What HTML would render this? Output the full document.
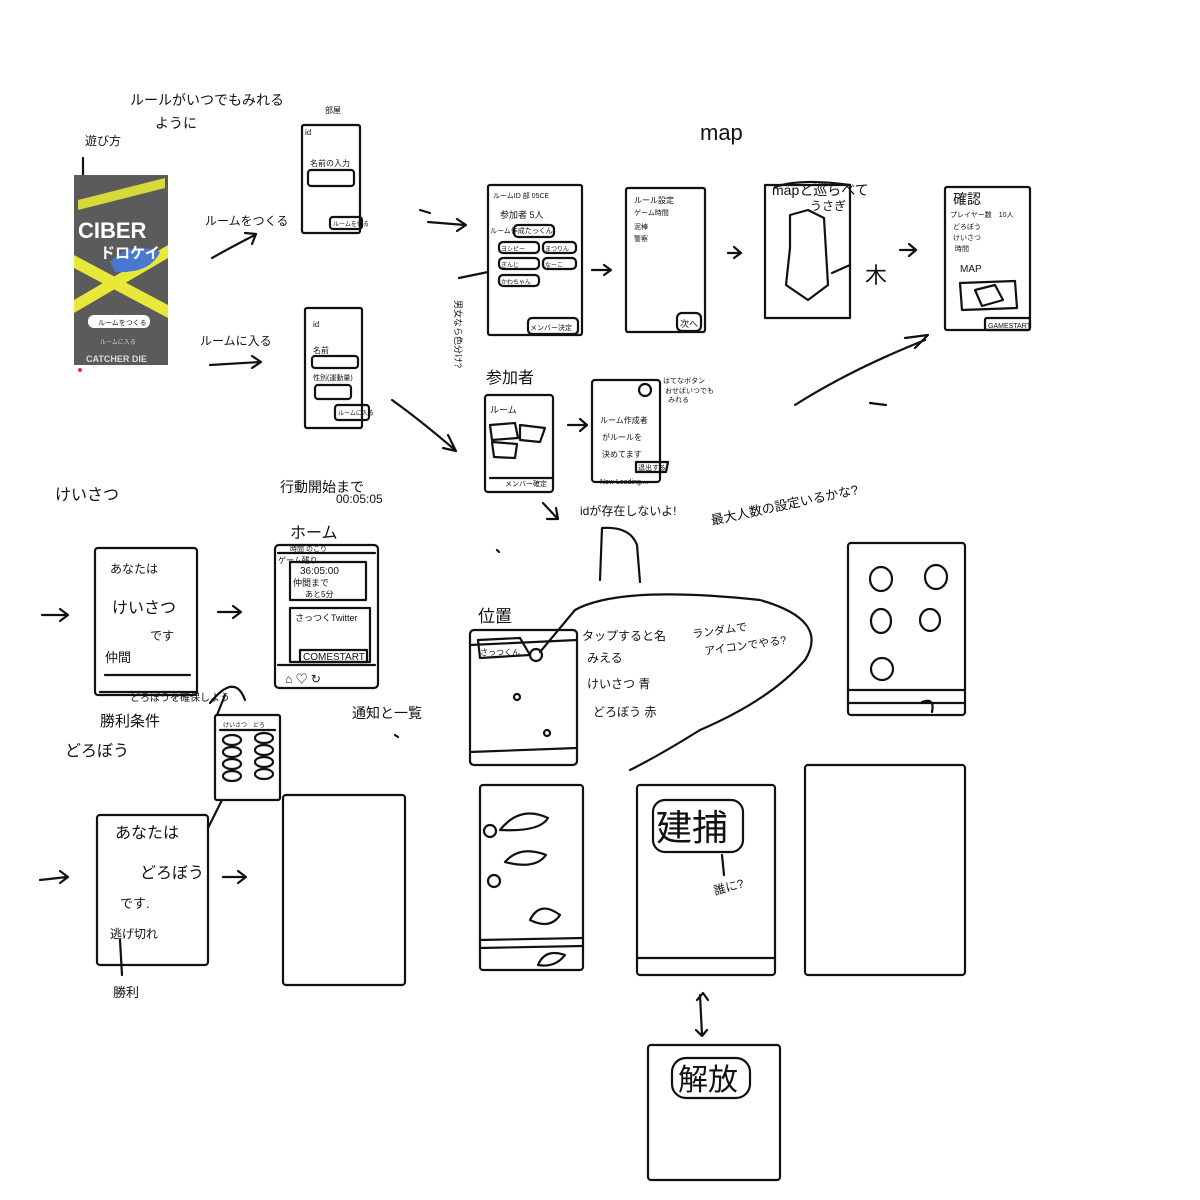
<!DOCTYPE html>
<html><head><meta charset="utf-8"><style>
html,body{margin:0;padding:0;background:#fff;}
svg{display:block}
text{font-family:"Liberation Sans","Noto Sans CJK JP",sans-serif;fill:#111}
</style></head><body>
<svg width="1200" height="1200" viewBox="0 0 1200 1200" xmlns="http://www.w3.org/2000/svg">
<g fill="none" stroke="#111" stroke-width="2.2" stroke-linecap="round" stroke-linejoin="round">
<rect x="302" y="125" width="58" height="108" rx="2"/>
<rect x="305" y="308" width="57" height="120" rx="2"/>
<rect x="488" y="185" width="94" height="150" rx="2"/>
<rect x="626" y="188" width="79" height="144" rx="2"/>
<rect x="765" y="185" width="85" height="133"/>
<rect x="945" y="187" width="85" height="143" rx="2"/>
<rect x="485" y="395" width="68" height="97" rx="3"/>
<rect x="592" y="380" width="68" height="102" rx="3"/>
<rect x="95" y="548" width="102" height="147" rx="3"/>
<rect x="275" y="545" width="103" height="143" rx="4"/>
<rect x="470" y="630" width="107" height="135" rx="4"/>
<rect x="848" y="543" width="117" height="172" rx="3"/>
<rect x="97" y="815" width="111" height="150" rx="3"/>
<rect x="283" y="795" width="122" height="190" rx="3"/>
<rect x="480" y="785" width="103" height="185" rx="3"/>
<rect x="637" y="785" width="138" height="190" rx="3"/>
<rect x="805" y="765" width="160" height="210" rx="3"/>
<rect x="648" y="1045" width="132" height="135" rx="3"/>
<rect x="215" y="715" width="65" height="85" rx="2"/>
<rect x="308" y="170" width="46" height="16" rx="3"/>
<rect x="330" y="217" width="32" height="12" rx="3"/>
<rect x="312" y="356" width="46" height="12" rx="3"/>
<rect x="335" y="405" width="34" height="15" rx="3"/>
<rect x="315" y="385" width="36" height="14" rx="3"/>
<rect x="528" y="318" width="50" height="16" rx="4"/>
<rect x="499" y="242" width="40" height="11" rx="4"/>
<rect x="543" y="242" width="33" height="11" rx="4"/>
<rect x="499" y="258" width="40" height="11" rx="4"/>
<rect x="543" y="258" width="33" height="11" rx="4"/>
<rect x="499" y="275" width="40" height="11" rx="4"/>
<rect x="514" y="225" width="40" height="12" rx="4"/>
<rect x="677" y="313" width="24" height="18" rx="5"/>
<rect x="985" y="318" width="45" height="12" rx="2"/>
<path d="M960 283 L1015 281 L1017 308 L962 310 Z"/>
<path d="M975 290 L995 285 L1003 300 L982 306 Z"/>
<path d="M790 248 L790 215 L808 210 L824 218 L828 285 L808 300 L786 285 Z"/>
<path d="M832 273 L850 265"/>
<path d="M490 425 L515 423 L518 438 L492 440 Z M520 425 L545 428 L540 442 L520 440 Z M492 442 L517 444 L515 458 L494 457 Z"/>
<path d="M490 478 L553 478"/>
<path d="M636 462 L668 462 L666 472 L636 472 Z"/>
<circle cx="645" cy="390" r="6"/>
<path d="M278 553 L375 553 M290 562 L366 562 L366 600 L290 600 Z M290 608 L370 608 L370 662 L290 662 Z M278 665 L375 665"/>
<path d="M300 650 L367 650 L367 662 L300 662 Z"/>
<path d="M470 645 L577 640 M470 752 L577 748"/>
<path d="M478 640 L520 638 L530 655 L480 658 Z"/>
<circle cx="536" cy="655" r="6"/><circle cx="517" cy="697" r="3"/><circle cx="547" cy="733" r="3"/>
<path d="M540 652 L575 610 Q620 585 760 600 Q830 620 805 660 Q770 700 700 730 Q660 755 630 770"/>
<ellipse cx="881" cy="579" rx="11" ry="12"/><ellipse cx="936" cy="577" rx="11" ry="12"/>
<ellipse cx="881" cy="621" rx="10" ry="12"/><ellipse cx="930" cy="620" rx="10" ry="11"/>
<ellipse cx="882" cy="669" rx="11" ry="11"/>
<path d="M848 690 L965 690 M848 703 L965 703 M922 702 Q935 697 932 712"/>
<path d="M105 675 L190 675 M100 692 L195 692"/>
<path d="M220 730 L275 730"/>
<ellipse cx="232" cy="740" rx="9" ry="5"/><ellipse cx="264" cy="738" rx="9" ry="5"/>
<ellipse cx="232" cy="752" rx="9" ry="5"/><ellipse cx="264" cy="750" rx="9" ry="5"/>
<ellipse cx="232" cy="764" rx="9" ry="5"/><ellipse cx="264" cy="762" rx="9" ry="5"/>
<ellipse cx="232" cy="776" rx="9" ry="5"/><ellipse cx="264" cy="774" rx="9" ry="5"/>
<path d="M500 830 Q520 805 548 818 Q540 832 500 830 Z M505 862 Q520 845 546 855 Q535 870 505 862 Z M530 920 Q540 900 560 915 Q550 930 530 920 Z M538 965 Q545 948 565 955 Q555 968 538 965 Z"/>
<circle cx="490" cy="831" r="6"/><circle cx="494" cy="881" r="6"/>
<path d="M480 940 L583 938 M480 948 L583 946"/>
<rect x="653" y="800" width="90" height="52" rx="12"/>
<path d="M637 958 L775 958 M722 855 L724 875"/>
<rect x="672" y="1058" width="78" height="40" rx="14"/>
<path d="M700 995 L702 1035 M697 1000 L703 993 L708 1000 M696 1030 L702 1036 L707 1030"/>
<path d="M212 258 Q235 245 255 235 M245 233 L256 234 L252 244"/>
<path d="M210 365 L260 362 M252 356 L261 362 L252 368"/>
<path d="M420 210 L430 213 M428 222 L465 225 M457 219 L466 225 L457 231"/>
<path d="M392 400 Q420 420 455 450 M448 435 L456 451 L443 448"/>
<path d="M592 270 L610 270 M604 265 L611 270 L604 275"/>
<path d="M728 253 L740 253 M734 247 L741 253 L734 258"/>
<path d="M900 250 L915 250 M909 244 L916 250 L909 256"/>
<path d="M795 405 Q850 370 925 340 M905 338 L928 335 L915 348"/>
<path d="M870 403 L886 405"/>
<path d="M568 425 L585 425 M580 419 L587 425 L580 431"/>
<path d="M543 503 L557 518 M547 519 L558 519 L556 508"/>
<path d="M600 580 L602 528 Q630 526 637 545 L640 582"/>
<path d="M42 615 L67 615 M60 609 L68 615 L60 621"/>
<path d="M218 612 L240 612 M233 606 L241 612 L233 618"/>
<path d="M40 880 L67 877 M60 871 L68 877 L60 883"/>
<path d="M223 877 L245 877 M238 871 L246 877 L238 883"/>
<path d="M210 703 Q235 672 245 700 M217 715 L225 695"/>
<path d="M208 828 L222 800"/>
<path d="M120 940 L122 975"/>
<path d="M83 158 L83 180"/>
<path d="M497 550 L499 552 M395 735 L398 737"/>
<path d="M459 278 L488 272"/>
<path d="M775 187 Q800 178 850 185"/>
</g>
<rect x="74" y="175" width="94" height="190" fill="#5b5b5b"/>
<path d="M74 300 L168 245 L168 258 L74 313 Z M74 255 L168 305 L168 318 L74 268 Z" fill="#e6e83a"/>
<path d="M78 200 L165 178 L165 188 L78 210 Z" fill="#d7d93a"/>
<path d="M110 262 Q130 240 160 252 Q150 274 115 272 Z" fill="#4a78d0"/>
<text x="78" y="238" font-size="22" font-weight="bold" style="fill:#fff">CIBER</text>
<text x="100" y="258" font-size="15" font-weight="bold" style="fill:#fff">ドロケイ</text>
<rect x="88" y="315" width="62" height="13" rx="6" fill="#fff"/>
<text x="98" y="325" font-size="7">ルームをつくる</text>
<text x="100" y="344" font-size="6" style="fill:#ccc">ルームに入る</text>
<text x="86" y="362" font-size="9" font-weight="bold" style="fill:#ddd">CATCHER DIE</text>
<circle cx="80" cy="370" r="2" fill="#d33"/>
<g font-size="14">
<text x="130" y="105">ルールがいつでもみれる</text>
<text x="155" y="128">ように</text>
<text x="85" y="145" font-size="12">遊び方</text>
<text x="205" y="225" font-size="12">ルームをつくる</text>
<text x="200" y="345" font-size="12">ルームに入る</text>
<text x="325" y="113" font-size="8">部屋</text>
<text x="305" y="135" font-size="8">id</text>
<text x="310" y="166" font-size="8">名前の入力</text>
<text x="333" y="226" font-size="6">ルームを作る</text>
<text x="313" y="327" font-size="8">id</text>
<text x="313" y="353" font-size="8">名前</text>
<text x="313" y="380" font-size="7">性別(運動量)</text>
<text x="338" y="415" font-size="6">ルームに入る</text>
<text x="700" y="140" font-size="22">map</text>
<text x="493" y="198" font-size="7">ルームID 部 05CE</text>
<text x="500" y="218" font-size="9">参加者 5人</text>
<text x="490" y="233" font-size="7">ルーム作成たっくん</text>
<text x="501" y="251" font-size="6">ヨシピー</text><text x="545" y="251" font-size="6">まつりん</text>
<text x="501" y="267" font-size="6">ぎんじ</text><text x="545" y="267" font-size="6">なーこ</text>
<text x="501" y="284" font-size="6">かわちゃん</text>
<text x="530" y="330" font-size="7">メンバー決定</text>
<text x="634" y="203" font-size="8">ルール設定</text>
<text x="634" y="215" font-size="7">ゲーム時間</text>
<text x="634" y="229" font-size="7">泥棒</text>
<text x="634" y="241" font-size="7">警察</text>
<text x="680" y="327" font-size="9">次へ</text>
<text x="772" y="195" font-size="14">mapと巡らべて</text>
<text x="810" y="210" font-size="12">うさぎ</text>
<text x="865" y="283" font-size="22">木</text>
<text x="953" y="204" font-size="14">確認</text>
<text x="950" y="217" font-size="7">プレイヤー数　10人</text>
<text x="953" y="229" font-size="7">どろぼう</text>
<text x="953" y="240" font-size="7">けいさつ</text>
<text x="955" y="251" font-size="7">時間</text>
<text x="960" y="272" font-size="10">MAP</text>
<text x="988" y="328" font-size="7">GAMESTART</text>
<text x="486" y="383" font-size="16">参加者</text>
<text x="490" y="413" font-size="9">ルーム</text>
<text x="505" y="486" font-size="7">メンバー確定</text>
<text x="600" y="423" font-size="8">ルーム作成者</text>
<text x="602" y="440" font-size="8">がルールを</text>
<text x="602" y="457" font-size="8">決めてます</text>
<text x="638" y="470" font-size="7">退出する</text>
<text x="600" y="484" font-size="7">Now Loading....</text>
<text x="663" y="383" font-size="7">はてなボタン</text>
<text x="665" y="393" font-size="7">おせばいつでも</text>
<text x="668" y="402" font-size="7">みれる</text>
<text x="580" y="515" font-size="12">idが存在しないよ!</text>
<text x="712" y="525" font-size="13" transform="rotate(-12 712 525)">最大人数の設定いるかな?</text>
<text x="455" y="300" font-size="9" transform="rotate(90 455 300)">男女なら色分け?</text>
<text x="55" y="500" font-size="16">けいさつ</text>
<text x="280" y="492" font-size="14">行動開始まで</text>
<text x="336" y="503" font-size="12">00:05:05</text>
<text x="290" y="538" font-size="16">ホーム</text>
<text x="290" y="551" font-size="7">時間 のこり</text>
<text x="278" y="563" font-size="8">ゲーム残り</text>
<text x="300" y="574" font-size="10">36:05:00</text>
<text x="293" y="586" font-size="9">仲間まで</text>
<text x="305" y="597" font-size="8">あと5分</text>
<text x="295" y="621" font-size="9">さっつくTwitter</text>
<text x="303" y="660" font-size="10">COMESTART</text>
<text x="285" y="683" font-size="12">⌂ ♡ ↻</text>
<text x="110" y="573" font-size="12">あなたは</text>
<text x="112" y="613" font-size="16">けいさつ</text>
<text x="150" y="640" font-size="12">です</text>
<text x="105" y="662" font-size="13">仲間</text>
<text x="130" y="701" font-size="10">どろぼうを確保しよう</text>
<text x="100" y="726" font-size="15">勝利条件</text>
<text x="65" y="756" font-size="16">どろぼう</text>
<text x="352" y="718" font-size="14">通知と一覧</text>
<text x="223" y="727" font-size="6">けいさつ　どろ</text>
<text x="478" y="622" font-size="17">位置</text>
<text x="480" y="655" font-size="8">さっつくん</text>
<text x="582" y="640" font-size="12">タップすると名</text>
<text x="587" y="662" font-size="12">みえる</text>
<text x="587" y="688" font-size="12">けいさつ 青</text>
<text x="593" y="716" font-size="12">どろぼう 赤</text>
<text x="693" y="638" font-size="11" transform="rotate(-8 693 638)">ランダムで</text>
<text x="705" y="655" font-size="11" transform="rotate(-8 705 655)">アイコンでやる?</text>
<text x="115" y="838" font-size="16">あなたは</text>
<text x="140" y="878" font-size="16">どろぼう</text>
<text x="120" y="908" font-size="13">です.</text>
<text x="110" y="938" font-size="12">逃げ切れ</text>
<text x="113" y="997" font-size="13">勝利</text>
<text x="656" y="840" font-size="36">建捕</text>
<text x="715" y="895" font-size="12" transform="rotate(-15 715 895)">誰に?</text>
<text x="678" y="1090" font-size="30">解放</text>
</g>
</svg>
</body></html>
